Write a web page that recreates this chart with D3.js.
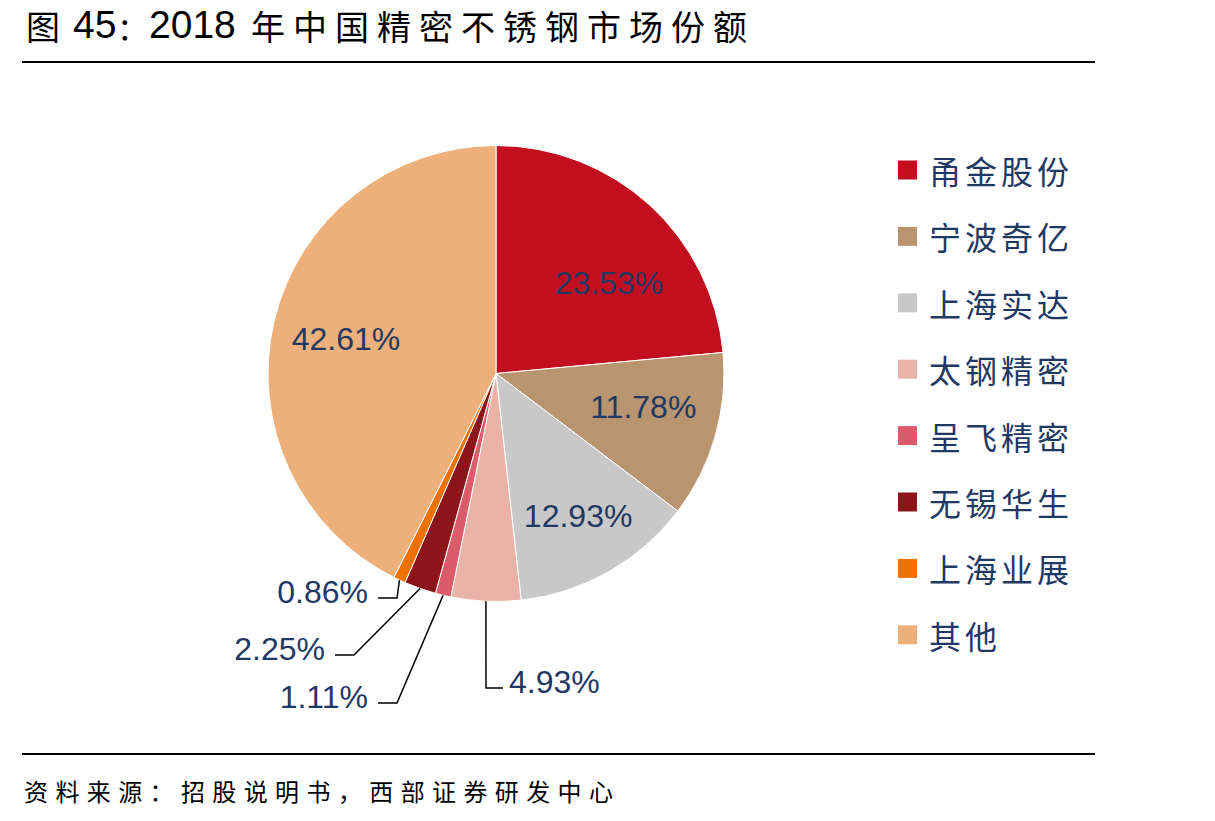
<!DOCTYPE html>
<html>
<head>
<meta charset="utf-8">
<script src="https://cdn.jsdelivr.net/npm/d3@7"></script>
<style>
  body { margin: 0; background: #fff; }
  svg { display: block; }
  .cn { font-family: "Noto Sans CJK SC", sans-serif; }
  .num { font-family: "Liberation Sans", Arial, sans-serif; }
  .pct { font-family: "Liberation Sans", Arial, sans-serif; font-size: 32px; fill: #1f3864; }
</style>
</head>
<body>
<svg id="chart" width="1215" height="821"></svg>
<script>
// data
const companies = ["甬金股份", "宁波奇亿", "上海实达", "太钢精密", "呈飞精密", "无锡华生", "上海业展", "其他"];
const shares = [23.53, 11.78, 12.93, 4.93, 1.11, 2.25, 0.86, 42.61];
const colors = ["#c20f1f", "#b8956f", "#c8c8c8", "#e9b3a8", "#dc5b6b", "#8b1519", "#ee7203", "#edb07a"];
// title pieces: [text, kind]
const titleParts = [["图", "cn"], ["45", "num"], ["：", "cn"], ["2018", "num"], ["年中国精密不锈钢市场份额", "cn"]];
const sourceText = "资料来源：招股说明书，西部证券研发中心";

// layout bits (label placement like excel's best fit)
const titleX = [26, 73, 117, 149, 251];
const titleSize = [34, 39, 31, 39, 34];
const insideNudge = { 0: [12, 20], 1: [3, -8], 2: [8, 12], 7: [-4, 0] };
const callouts = {
  3: { elbow: [486, 688], end: 503, side: "right" },
  4: { elbow: [397, 703], end: 378, side: "left" },
  5: { elbow: [354, 655], end: 335, side: "left" },
  6: { elbow: [397, 598], end: 378, side: "left" }
};

const svg = d3.select("#chart");
const cx = 496, cy = 373.5, R = 228;

// title + rules
titleParts.forEach(([t, kind], i) => {
  svg.append("text")
    .attr("class", kind)
    .attr("x", titleX[i]).attr("y", kind === "cn" ? 40 : 38)
    .attr("fill", "#000")
    .attr("font-size", titleSize[i])
    .attr("letter-spacing", t.length > 1 && kind === "cn" ? 8 : 0)
    .text(t);
});

svg.append("line").attr("x1", 22).attr("x2", 1095).attr("y1", 62).attr("y2", 62)
  .attr("stroke", "#000").attr("stroke-width", 2);
svg.append("line").attr("x1", 22).attr("x2", 1095).attr("y1", 754).attr("y2", 754)
  .attr("stroke", "#000").attr("stroke-width", 2);

svg.append("text").attr("class", "cn")
  .attr("x", 24).attr("y", 801)
  .attr("font-size", 24).attr("fill", "#000")
  .attr("textLength", 589).attr("lengthAdjust", "spacing")
  .text(sourceText);

// pie
const pie = d3.pie().sort(null).value((d) => d);
const arcs = pie(shares);
const arc = d3.arc().innerRadius(0).outerRadius(R);

const g = svg.append("g").attr("transform", `translate(${cx},${cy})`);
g.selectAll("path")
  .data(arcs)
  .join("path")
  .attr("d", arc)
  .attr("fill", (d, i) => colors[i])
  .attr("stroke", "#fff")
  .attr("stroke-width", 1);

// inside labels
const labelArc = d3.arc().innerRadius(150).outerRadius(150);
arcs.forEach((d, i) => {
  if (!(i in insideNudge)) return;
  const [x, y] = labelArc.centroid(d);
  const [nx, ny] = insideNudge[i];
  g.append("text").attr("class", "pct")
    .attr("x", x + nx).attr("y", y + ny)
    .attr("text-anchor", "middle")
    .attr("dominant-baseline", "central")
    .text(d3.format(".2f")(shares[i]) + "%");
});

// callout labels with leader lines
const edgeArc = d3.arc().innerRadius(R).outerRadius(R);
arcs.forEach((d, i) => {
  const c = callouts[i];
  if (!c) return;
  const [sx, sy] = edgeArc.centroid(d);
  const start = [cx + sx, cy + sy];
  svg.append("polyline")
    .attr("points", [start, c.elbow, [c.end, c.elbow[1]]].map((p) => p.join(",")).join(" "))
    .attr("fill", "none").attr("stroke", "#000").attr("stroke-width", 1.5);
  svg.append("text").attr("class", "pct")
    .attr("x", c.side === "right" ? c.end + 6 : c.end - 10)
    .attr("y", c.elbow[1] + 5)
    .attr("text-anchor", c.side === "right" ? "start" : "end")
    .text(d3.format(".2f")(shares[i]) + "%");
});

// legend
const legend = svg.append("g").attr("transform", "translate(898,170)");
const rowH = 66.4;
const rows = legend.selectAll("g").data(companies).join("g")
  .attr("transform", (d, i) => `translate(0,${i * rowH})`);
rows.append("rect")
  .attr("x", 0).attr("y", -9.5).attr("width", 19).attr("height", 19)
  .attr("fill", (d, i) => colors[i]);
rows.append("text").attr("class", "cn")
  .attr("x", 31).attr("y", 0)
  .attr("dominant-baseline", "central")
  .attr("font-size", 32).attr("letter-spacing", 4)
  .attr("fill", "#1f3864")
  .text((d) => d);
</script>
</body>
</html>
